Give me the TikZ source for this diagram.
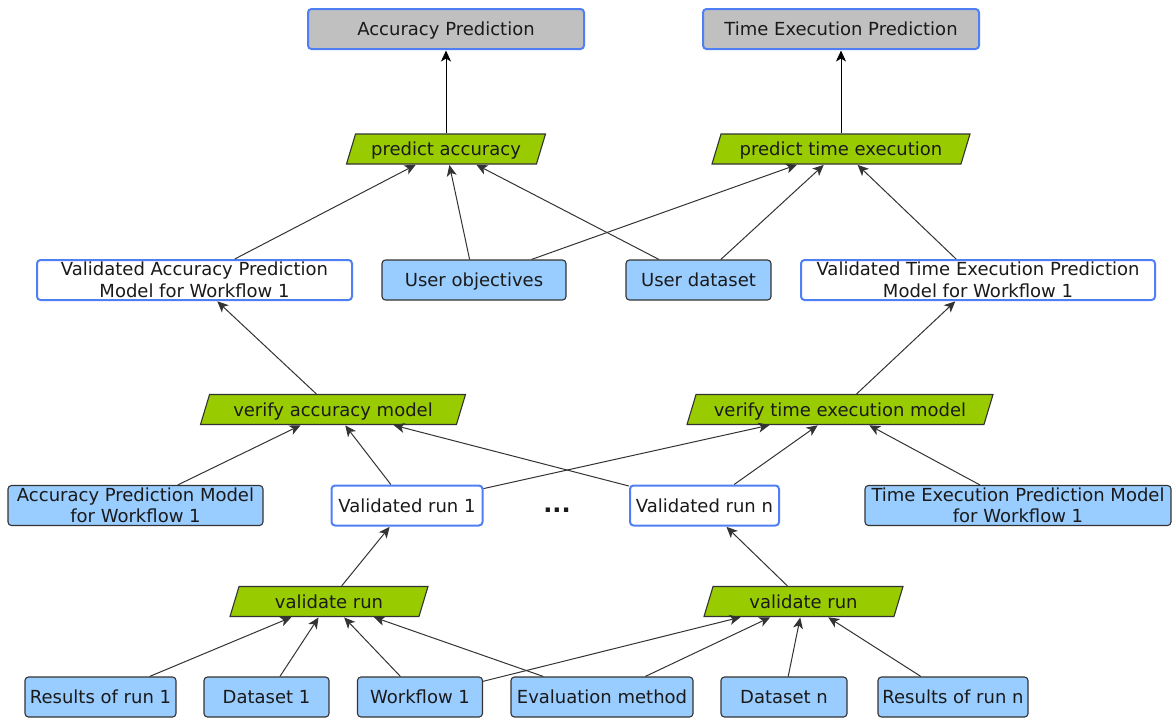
\documentclass[tikz,border=0pt]{standalone}
\usepackage{fontspec}
\setmainfont{DejaVu Sans}
\usetikzlibrary{shapes.geometric,arrows.meta}
\definecolor{bordblue}{HTML}{4F7FF5}
\definecolor{graybox}{HTML}{C0C0C0}
\definecolor{lightblue}{HTML}{99CCFF}
\definecolor{greenproc}{HTML}{99CC00}
\definecolor{edgegray}{HTML}{333333}
\definecolor{txt}{HTML}{1A1A1A}
\tikzset{
  x=1pt, y=-1pt,
  every node/.style={font=\fontsize{18}{21.5}\selectfont, text=txt, inner sep=0pt, align=center},
  single/.style={text height=15pt, text depth=2pt},
  goalbox/.style={draw=bordblue, line width=2pt, fill=graybox, rounded corners=3.5pt, minimum height=40pt, single},
  valbox/.style={draw=bordblue, line width=2pt, fill=white, rounded corners=3.5pt, minimum height=40pt},
  inbox/.style={draw=edgegray, line width=1.1pt, fill=lightblue, rounded corners=3.5pt, minimum height=40pt},
  procbox/.style={trapezium, trapezium left angle=62, trapezium right angle=118, trapezium stretches body,
     draw=edgegray, line width=1.1pt, fill=greenproc, minimum height=30pt, single},
  link/.style={draw=edgegray, line width=1pt, -{Stealth[length=11pt,width=10pt,inset=3pt]}, shorten >=0.5pt},
  toplink/.style={draw=black, line width=0.9pt, -{Stealth[length=11pt,width=10pt,inset=3pt]}, shorten >=0.5pt}
}
\begin{document}
\begin{tikzpicture}
\useasboundingbox (0,0) rectangle (1176,718);
% top goals
\node[goalbox, minimum width=276pt] (accpred) at (446,29) {Accuracy Prediction};
\node[goalbox, minimum width=276pt] (timepred) at (841,29) {Time Execution Prediction};
% predict processes
\node[procbox, minimum width=199pt] (pacc) at (446,149) {predict accuracy};
\node[procbox, minimum width=258pt] (ptime) at (841,149) {predict time execution};
% validated models and user inputs
\node[valbox, minimum width=315pt] (valacc) at (194.5,280) {Validated Accuracy Prediction\\Model for Workflow 1};
\node[inbox, single, minimum width=184pt] (userobj) at (474,280) {User objectives};
\node[inbox, single, minimum width=145pt] (userdata) at (698.5,280) {User dataset};
\node[valbox, minimum width=354pt] (valtime) at (978,280) {Validated Time Execution Prediction\\Model for Workflow 1};
% verify processes
\node[procbox, minimum width=265pt] (vacc) at (333,409.5) {verify accuracy model};
\node[procbox, minimum width=306pt] (vtime) at (840,409.5) {verify time execution model};
% second row
\node[inbox, minimum width=255pt] (accmodel) at (135.5,505.5) {Accuracy Prediction Model\\for Workflow 1};
\node[valbox, single, minimum width=151pt] (vrun1) at (407,505.5) {Validated run 1};
\node (dots) at (557,510) {\fontsize{24}{24}\selectfont\textbf{...}};
\node[valbox, single, minimum width=149pt] (vrunn) at (704.5,505.5) {Validated run n};
\node[inbox, minimum width=306pt] (timemodel) at (1018,505.5) {Time Execution Prediction Model\\for Workflow 1};
% validate processes
\node[procbox, minimum width=198pt] (val1) at (329,601.5) {validate run};
\node[procbox, minimum width=199pt] (valn) at (803.5,601.5) {validate run};
% bottom row
\node[inbox, single, minimum width=151pt] (res1) at (100.5,697) {Results of run 1};
\node[inbox, single, minimum width=125pt] (data1) at (266.5,697) {Dataset 1};
\node[inbox, single, minimum width=125pt] (wf1) at (420,697) {Workflow 1};
\node[inbox, single, minimum width=182pt] (evalm) at (602,697) {Evaluation method};
\node[inbox, single, minimum width=126pt] (datan) at (784,697) {Dataset n};
\node[inbox, single, minimum width=150pt] (resn) at (953,697) {Results of run n};
% edges
\draw[toplink] (pacc) -- (accpred);
\draw[toplink] (ptime) -- (timepred);
\draw[link] (valacc) -- (pacc);
\draw[link] (userobj) -- (pacc);
\draw[link] (userdata) -- (pacc);
\draw[link] (userobj) -- (ptime);
\draw[link] (userdata) -- (ptime);
\draw[link] (valtime) -- (ptime);
\draw[link] (vacc) -- (valacc);
\draw[link] (vtime) -- (valtime);
\draw[link] (accmodel) -- (vacc);
\draw[link] (vrun1) -- (vacc);
\draw[link] (vrunn) -- (vacc);
\draw[link] (vrun1) -- (vtime);
\draw[link] (vrunn) -- (vtime);
\draw[link] (timemodel) -- (vtime);
\draw[link] (val1) -- (vrun1);
\draw[link] (valn) -- (vrunn);
\draw[link] (res1) -- (val1);
\draw[link] (data1) -- (val1);
\draw[link] (wf1) -- (val1);
\draw[link] (evalm) -- (val1);
\draw[link] (wf1) -- (valn);
\draw[link] (evalm) -- (valn);
\draw[link] (datan) -- (valn);
\draw[link] (resn) -- (valn);
\end{tikzpicture}
\end{document}
